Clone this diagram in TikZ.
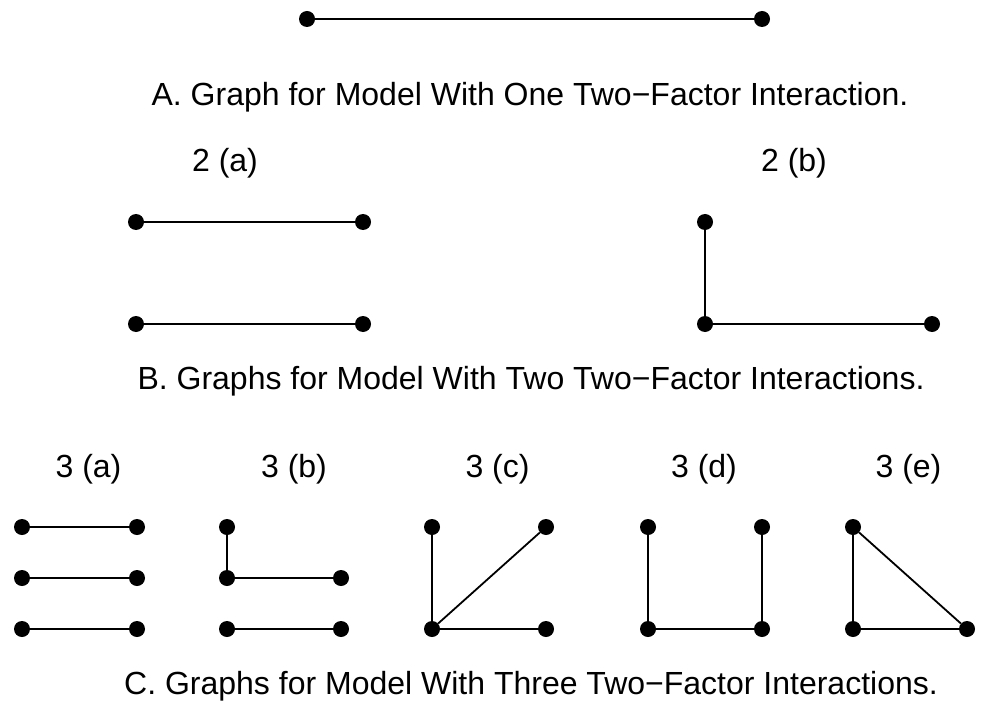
\documentclass[tikz,border=0pt]{standalone}
\usepackage{fontspec}
\setmainfont{Liberation Sans}
\usepackage{tikz}
\usetikzlibrary{positioning}
\tikzset{
  vtx/.style={circle, fill=black, draw=none, inner sep=0pt, minimum size=16pt},
  edge/.style={draw=black, line width=1.8pt},
  lbl/.style={anchor=base, inner sep=0pt, font=\fontsize{32}{38}\selectfont}
}

\begin{document}
\begin{tikzpicture}[x=1pt, y=-1pt]
  \useasboundingbox (0,0) rectangle (981,719);
  % A: one interaction
  \node[vtx] (a1) at (307,19) {};
  \node[vtx] (a2) at (762,19) {};
  \draw[edge] (a1)--(a2);
  \node[lbl] (capA) at (530,105.5) {A. Graph for Model With One Two−Factor Interaction.};
  % B: two interactions
  \node[lbl] (t2a) at (225,172) {2 (a)};
  \node[lbl] (t2b) at (794,172) {2 (b)};
  \node[vtx] (p1) at (136,222) {}; \node[vtx] (p2) at (363,222) {};
  \node[vtx] (p3) at (136,324) {}; \node[vtx] (p4) at (363,324) {};
  \draw[edge] (p1)--(p2); \draw[edge] (p3)--(p4);
  \node[vtx] (q1) at (705,222) {}; \node[vtx] (q2) at (705,324) {};
  \node[vtx] (q3) at (932,324) {};
  \draw[edge] (q1)--(q2); \draw[edge] (q2)--(q3);
  \node[lbl] (capB) at (531,389.5) {B. Graphs for Model With Two Two−Factor Interactions.};
  % C: three interactions
  \node[lbl] (t3a) at (88.5,477) {3 (a)};
  \node[lbl] (t3b) at (294,477) {3 (b)};
  \node[lbl] (t3c) at (497.5,477) {3 (c)};
  \node[lbl] (t3d) at (704,477) {3 (d)};
  \node[lbl] (t3e) at (908.5,477) {3 (e)};
  \node[vtx] (r1) at (22,527) {}; \node[vtx] (r2) at (137,527) {};
  \node[vtx] (r3) at (22,578) {}; \node[vtx] (r4) at (137,578) {};
  \node[vtx] (r5) at (22,629) {}; \node[vtx] (r6) at (137,629) {};
  \draw[edge] (r1)--(r2); \draw[edge] (r3)--(r4); \draw[edge] (r5)--(r6);
  \node[vtx] (s1) at (227,527) {}; \node[vtx] (s2) at (227,578) {};
  \node[vtx] (s3) at (341,578) {};
  \node[vtx] (s4) at (227,629) {}; \node[vtx] (s5) at (341,629) {};
  \draw[edge] (s1)--(s2); \draw[edge] (s2)--(s3); \draw[edge] (s4)--(s5);
  \node[vtx] (u1) at (432,527) {}; \node[vtx] (u2) at (546,527) {};
  \node[vtx] (u3) at (432,629) {}; \node[vtx] (u4) at (546,629) {};
  \draw[edge] (u1)--(u3); \draw[edge] (u3)--(u2); \draw[edge] (u3)--(u4);
  \node[vtx] (v1) at (648,527) {}; \node[vtx] (v2) at (762,527) {};
  \node[vtx] (v3) at (648,629) {}; \node[vtx] (v4) at (762,629) {};
  \draw[edge] (v1)--(v3); \draw[edge] (v3)--(v4); \draw[edge] (v2)--(v4);
  \node[vtx] (w1) at (853,527) {}; \node[vtx] (w2) at (853,629) {};
  \node[vtx] (w3) at (967,629) {};
  \draw[edge] (w1)--(w2); \draw[edge] (w1)--(w3); \draw[edge] (w2)--(w3);
  \node[lbl] (capC) at (531,694.5) {C. Graphs for Model With Three Two−Factor Interactions.};
\end{tikzpicture}
\end{document}
